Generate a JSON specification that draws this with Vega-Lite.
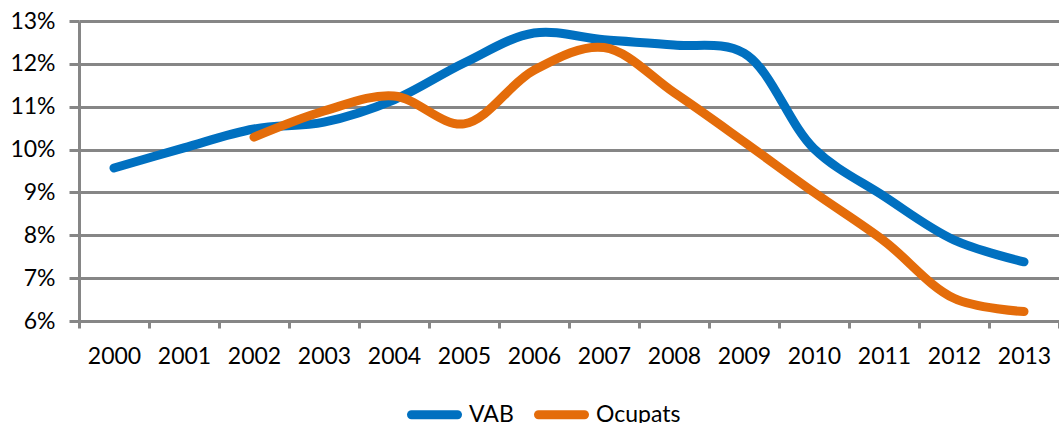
{
  "$schema": "https://vega.github.io/schema/vega-lite/v6.json",
  "width": 980,
  "height": 300,
  "autosize": {"type": "none"},
  "padding": {"left": 79, "top": 21, "right": 0, "bottom": 102},
  "background": "white",
  "config": {"view": {"stroke": null}, "font": "Lato"},
  "data": {
    "values": [
      {"year": "2000", "serie": "VAB", "value": 0.0957},
      {"year": "2001", "serie": "VAB", "value": 0.1004},
      {"year": "2002", "serie": "VAB", "value": 0.1048},
      {"year": "2003", "serie": "VAB", "value": 0.1064},
      {"year": "2004", "serie": "VAB", "value": 0.1116},
      {"year": "2005", "serie": "VAB", "value": 0.1202},
      {"year": "2006", "serie": "VAB", "value": 0.1272},
      {"year": "2007", "serie": "VAB", "value": 0.1256},
      {"year": "2008", "serie": "VAB", "value": 0.1244},
      {"year": "2009", "serie": "VAB", "value": 0.1225},
      {"year": "2010", "serie": "VAB", "value": 0.1002},
      {"year": "2011", "serie": "VAB", "value": 0.0891},
      {"year": "2012", "serie": "VAB", "value": 0.0789},
      {"year": "2013", "serie": "VAB", "value": 0.0738},
      {"year": "2002", "serie": "Ocupats", "value": 0.1029},
      {"year": "2003", "serie": "Ocupats", "value": 0.1090},
      {"year": "2004", "serie": "Ocupats", "value": 0.1125},
      {"year": "2005", "serie": "Ocupats", "value": 0.1060},
      {"year": "2006", "serie": "Ocupats", "value": 0.1185},
      {"year": "2007", "serie": "Ocupats", "value": 0.1238},
      {"year": "2008", "serie": "Ocupats", "value": 0.1133},
      {"year": "2009", "serie": "Ocupats", "value": 0.1018},
      {"year": "2010", "serie": "Ocupats", "value": 0.0900},
      {"year": "2011", "serie": "Ocupats", "value": 0.0787},
      {"year": "2012", "serie": "Ocupats", "value": 0.0653},
      {"year": "2013", "serie": "Ocupats", "value": 0.0622}
    ]
  },
  "mark": {"type": "line", "interpolate": "catmull-rom", "strokeWidth": 9, "strokeCap": "round", "strokeJoin": "round"},
  "encoding": {
    "x": {
      "field": "year",
      "type": "ordinal",
      "scale": {"type": "band", "paddingInner": 0, "paddingOuter": 0},
      "axis": {
        "title": null,
        "labelAngle": 0,
        "labelFontSize": 23,
        "labelColor": "black",
        "labelPadding": 17,
        "domainColor": "#868686",
        "domainWidth": 3,
        "tickColor": "#868686",
        "tickWidth": 3,
        "tickSize": 7,
        "tickBand": "extent",
        "grid": false
      }
    },
    "y": {
      "field": "value",
      "type": "quantitative",
      "scale": {"domain": [0.06, 0.13], "nice": false, "zero": false},
      "axis": {
        "title": null,
        "values": [0.06, 0.07, 0.08, 0.09, 0.10, 0.11, 0.12, 0.13],
        "format": ".0%",
        "labelFontSize": 23,
        "labelColor": "black",
        "labelPadding": 14,
        "grid": true,
        "gridColor": "#868686",
        "gridWidth": 3,
        "domainColor": "#868686",
        "domainWidth": 3,
        "tickColor": "#868686",
        "tickWidth": 3,
        "tickSize": 10
      }
    },
    "color": {
      "field": "serie",
      "type": "nominal",
      "scale": {"domain": ["VAB", "Ocupats"], "range": ["#0070C0", "#E46C0A"]},
      "legend": {
        "orient": "none",
        "legendX": 328,
        "legendY": 366,
        "direction": "horizontal",
        "title": null,
        "symbolType": "M-1,0H1",
        "symbolSize": 2116,
        "symbolStrokeWidth": 9,
        "labelFontSize": 23,
        "labelColor": "black",
        "labelOffset": 7,
        "columnPadding": 6,
        "padding": 0,
        "encode": {"symbols": {"update": {"strokeCap": {"value": "round"}}}}
      }
    }
  }
}
